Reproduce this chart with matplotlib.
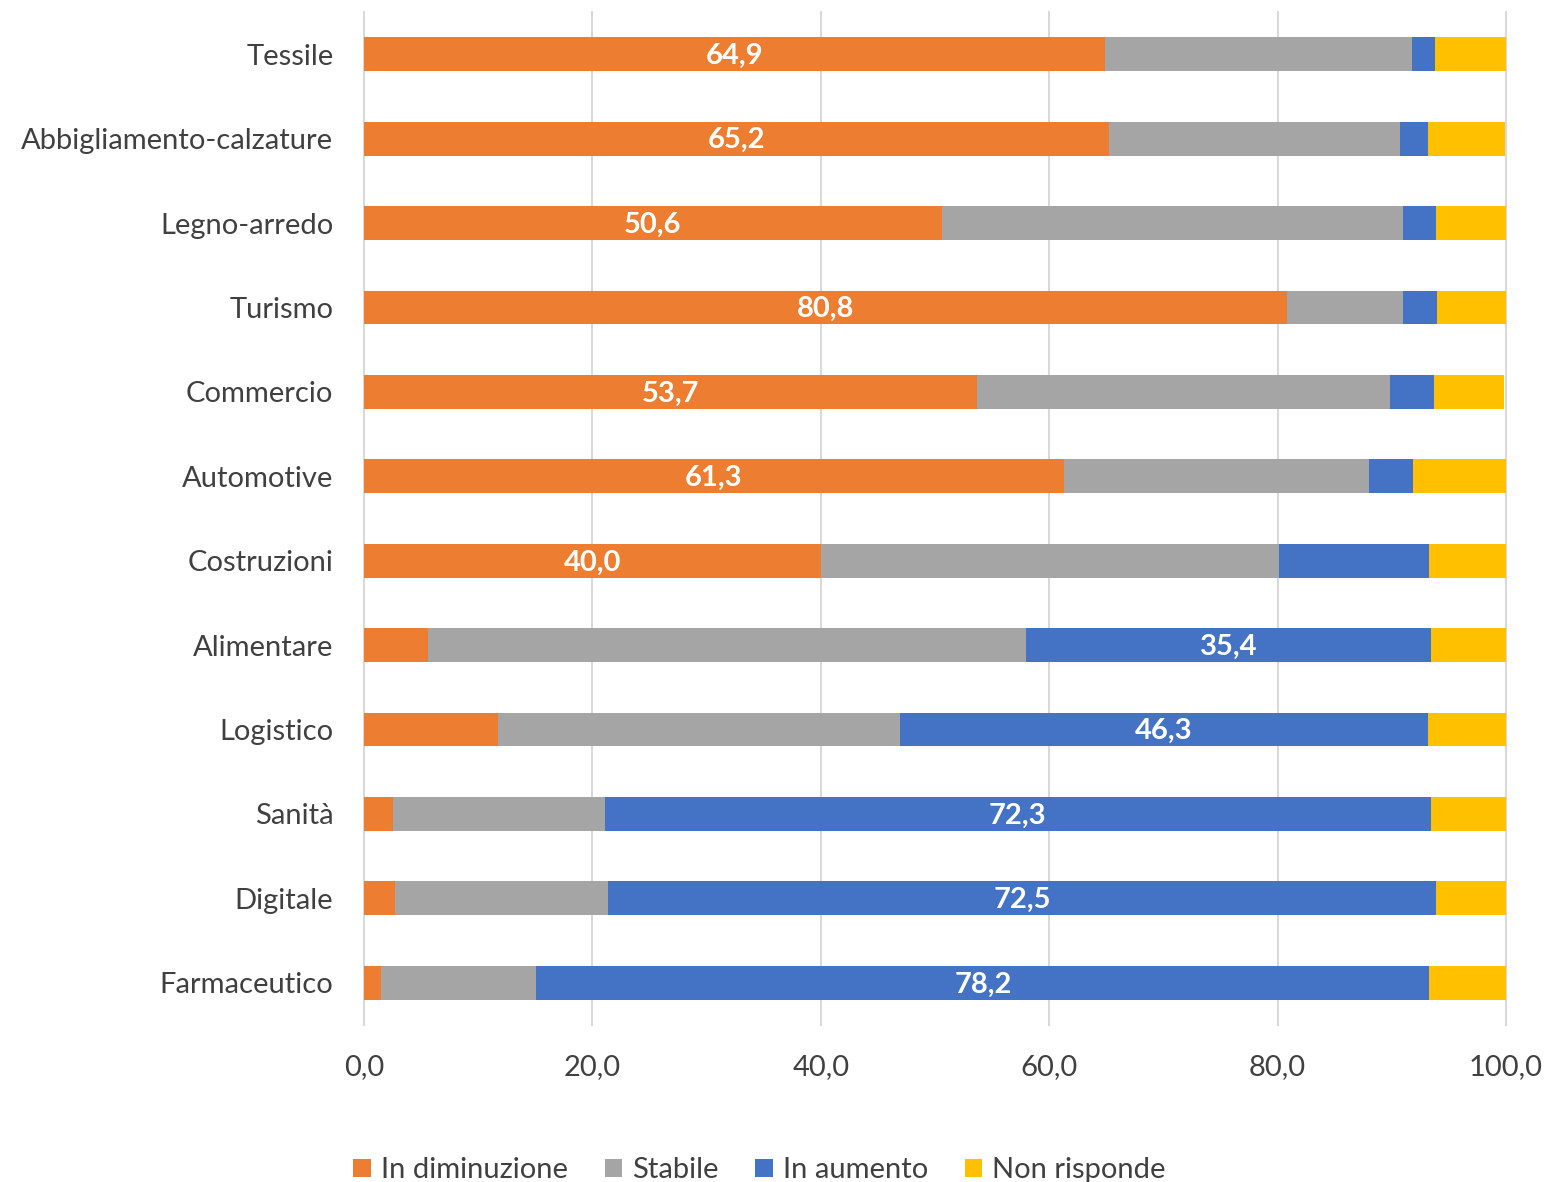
import matplotlib
matplotlib.use("Agg")
import matplotlib.pyplot as plt
import numpy as np

categories = ["Tessile", "Abbigliamento-calzature", "Legno-arredo", "Turismo", "Commercio",
              "Automotive", "Costruzioni", "Alimentare", "Logistico", "Sanità", "Digitale",
              "Farmaceutico"]
in_diminuzione = [64.9, 65.2, 50.6, 80.8, 53.7, 61.3, 40.0, 5.6, 11.7, 2.5, 2.7, 1.5]
stabile = [26.9, 25.5, 40.4, 10.2, 36.1, 26.7, 40.1, 52.4, 35.2, 18.6, 18.7, 13.6]
in_aumento = [2.0, 2.5, 2.9, 3.0, 3.9, 3.9, 13.2, 35.4, 46.3, 72.3, 72.5, 78.2]
non_risponde = [6.2, 6.7, 6.1, 6.0, 6.1, 8.1, 6.7, 6.6, 6.8, 6.6, 6.1, 6.7]
series_names = ["In diminuzione", "Stabile", "In aumento", "Non risponde"]
xticks = [0, 20, 40, 60, 80, 100]

colors = ["#ED7D31", "#A5A5A5", "#4472C4", "#FFC000"]
plt.rcParams['font.family'] = ['Lato', 'DejaVu Sans']
FS = 21

fig = plt.figure(figsize=(15.47, 11.82), dpi=100)
ax = fig.add_axes([364/1547, 1-1025/1182, (1506-364)/1547, (1025-12)/1182])

y = np.arange(len(categories))
series = [in_diminuzione, stabile, in_aumento, non_risponde]
left = np.zeros(len(categories))
for vals, name, c in zip(series, series_names, colors):
    vals = np.array(vals)
    ax.barh(y, vals, left=left, height=0.4, color=c, label=name, zorder=3)
    if name in ("In diminuzione", "In aumento"):
        for yi, l, v in zip(y, left, vals):
            if v >= 30:
                ax.text(l + v/2, yi + 0.02, f"{v:.1f}".replace(".", ","), ha="center", va="center",
                        color="white", fontsize=FS, fontweight="bold", zorder=4)
    left += vals

ax.set_xlim(0, 100)
ax.set_ylim(len(categories)-0.5, -0.5)
ax.set_yticks(y)
ax.set_yticklabels(categories)
ax.set_xticks(xticks)
ax.set_xticklabels([f"{t:.1f}".replace(".", ",") for t in xticks])
ax.tick_params(axis="both", length=0, labelsize=FS, labelcolor="#404040")
ax.tick_params(axis="y", pad=22)
ax.tick_params(axis="x", pad=21)
for s in ax.spines.values():
    s.set_visible(False)
ax.grid(axis="x", color="#D9D9D9", linewidth=1.5, zorder=0)
for gl in ax.get_xgridlines():
    gl.set_clip_on(False)

handles, labels = ax.get_legend_handles_labels()
fig.legend(handles, labels, loc="center", bbox_to_anchor=(0.491, 0.010), ncol=4,
           frameon=False, fontsize=FS, handlelength=0.6, handleheight=0.6,
           handletextpad=0.35, columnspacing=1.25, labelcolor="#404040", borderpad=0)

fig.savefig("out.png", dpi=100)
